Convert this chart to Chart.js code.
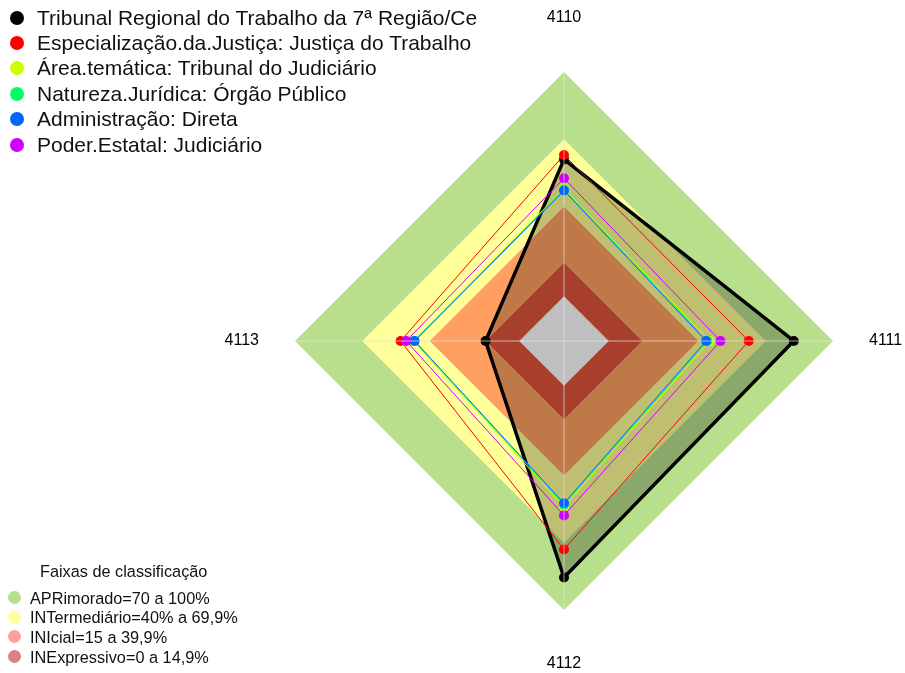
<!DOCTYPE html>
<html>
<head>
<meta charset="utf-8">
<script src="https://cdn.jsdelivr.net/npm/chart.js@4.4.1/dist/chart.umd.min.js"></script>
<style>
  body { margin: 0; background: #fff; overflow: hidden; }
  #wrap { position: relative; width: 905px; height: 673px; font-family: "Liberation Sans", Arial, sans-serif; }
  #chart { position: absolute; left: 0; top: 0; }
  .row { position: absolute; white-space: nowrap; color: #111; }
  .dot { position: absolute; border-radius: 50%; }
</style>
</head>
<body>
<div id="wrap">
  <canvas id="chart" width="905" height="673"></canvas>
  <div id="legendTop"></div>
  <div id="legendBands"></div>
</div>
<script>
// axes (clockwise from top)
const axisLabels = ["4110", "4111", "4112", "4113"];

// series, values in %
const seriesNames = [
  "Tribunal Regional do Trabalho da 7ª Região/Ce",
  "Especialização.da.Justiça: Justiça do Trabalho",
  "Área.temática: Tribunal do Judiciário",
  "Natureza.Jurídica: Órgão Público",
  "Administração: Direta",
  "Poder.Estatal: Judiciário"
];
const seriesColors = ["#000000", "#FF0000", "#CCFF00", "#00FF66", "#0066FF", "#CC00FF"];
const tribunal      = [61, 82.5, 85.5, 15];
const especializacao = [63, 62.4, 73, 52.9];
const areaTematica  = [48, 45, 54, 47.2];
const natureza      = [47.6, 44, 53, 46.9];
const administracao = [47.1, 43.4, 52.4, 46.6];
const poderEstatal  = [52.6, 49.8, 57.8, 50.4];
const seriesValues = [tribunal, especializacao, areaTematica, natureza, administracao, poderEstatal];

// classification bands
const bandNames = [
  "APRimorado=70 a 100%",
  "INTermediário=40% a 69,9%",
  "INIcial=15 a 39,9%",
  "INExpressivo=0 a 14,9%"
];
const bandUpper = [100, 70, 40, 15];
const bandLower = [70, 40, 15, 0];
const bandFill = ["#B8E08C", "#FFFF99", "#FFA060", "#E0553B"];
const bandSwatch = ["#B8E08C", "#FFFFA0", "#FFA0A0", "#D98282"];

const FONT = '"Liberation Sans", Arial, sans-serif';

const datasets = [];
seriesNames.forEach((name, i) => {
  const isMain = i === 0;
  datasets.push({
    label: name,
    data: seriesValues[i],
    borderColor: seriesColors[i],
    backgroundColor: isMain ? "rgba(0,0,0,0.25)" : "transparent",
    fill: isMain ? "start" : false,
    borderWidth: isMain ? 3.5 : 1,
    pointRadius: 5,
    pointBorderWidth: 0,
    pointBackgroundColor: seriesColors[i],
    tension: 0,
    order: 6 - i
  });
});
bandNames.forEach((name, i) => {
  datasets.push({
    label: name,
    data: axisLabels.map(() => bandUpper[i]),
    borderWidth: 0,
    borderColor: "transparent",
    backgroundColor: bandFill[i],
    fill: { value: bandLower[i] },
    pointRadius: 0,
    order: 20 + i
  });
});

new Chart(document.getElementById("chart"), {
  type: "radar",
  data: { labels: axisLabels, datasets },
  options: {
    responsive: false,
    animation: false,
    events: [],
    layout: { padding: { top: 10, bottom: 1, left: 222, right: 0 } },
    plugins: { legend: { display: false }, tooltip: { enabled: false } },
    scales: {
      r: {
        min: -20,
        max: 100,
        ticks: { display: false, stepSize: 20 },
        grid: { display: false, z: 1 },
        angleLines: { color: "rgba(225,225,225,0.7)", lineWidth: 1 },
        pointLabels: {
          color: "#000",
          font: { family: FONT, size: 16, lineHeight: 1 },
          padding: (ctx) => (ctx.index % 2 ? 36 : 46)
        }
      }
    }
  }
});

// top-left series legend
const lt = document.getElementById("legendTop");
seriesNames.forEach((name, i) => {
  const cy = 17.5 + i * 25.4;
  lt.insertAdjacentHTML("beforeend",
    `<div class="dot" style="left:${17.3 - 7}px;top:${cy - 7}px;width:14px;height:14px;background:${seriesColors[i]}"></div>` +
    `<div class="row" style="left:37px;top:${cy - 13}px;font-size:21px;line-height:26px">${name}</div>`);
});

// bottom-left band legend
const lb = document.getElementById("legendBands");
lb.insertAdjacentHTML("beforeend",
  `<div class="row" style="left:40px;top:${571 - 10}px;font-size:16.3px;line-height:20px">Faixas de classificação</div>`);
bandNames.forEach((name, i) => {
  const cy = 597.5 + i * 19.7;
  lb.insertAdjacentHTML("beforeend",
    `<div class="dot" style="left:${14 - 6.5}px;top:${cy - 6.5}px;width:13px;height:13px;background:${bandSwatch[i]}"></div>` +
    `<div class="row" style="left:30px;top:${cy - 10}px;font-size:16.3px;line-height:20px">${name}</div>`);
});
</script>
</body>
</html>
